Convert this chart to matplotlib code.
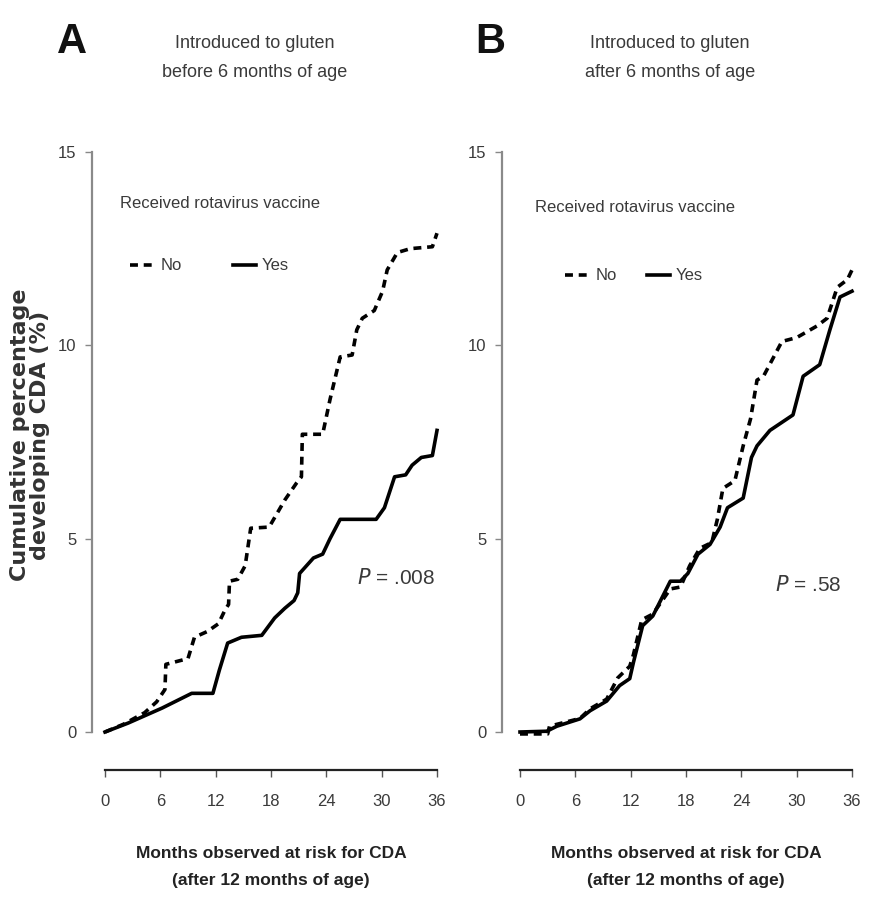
import matplotlib
matplotlib.use("Agg")
import matplotlib.pyplot as plt

plt.rcParams['font.family'] = ['Liberation Sans', 'DejaVu Sans']

# Panel A: introduced to gluten before 6 months
a_no_x = [0, 2, 4.3, 5.6, 6.5, 6.6, 9.0, 9.7, 11.1, 12.3, 13.0, 13.4, 13.5, 14.4, 15.2, 15.8,
          17.8, 19.5, 20.8, 21.3, 21.4, 23.6, 24.4, 25.5, 26.8, 27.3, 27.9, 29.2, 30.1,
          30.6, 31.7, 33.1, 35.5, 36]
a_no_y = [0, 0.2, 0.5, 0.78, 1.1, 1.75, 1.9, 2.45, 2.6, 2.8, 3.15, 3.3, 3.9, 3.95, 4.3, 5.27,
          5.3, 6.0, 6.45, 6.6, 7.7, 7.7, 8.6, 9.7, 9.75, 10.4, 10.7, 10.9, 11.4,
          11.95, 12.4, 12.5, 12.55, 12.9]
a_yes_x = [0, 2.5, 6.2, 9.4, 11.7, 12.4, 13.3, 14.8, 17.0, 18.4, 19.5, 20.5, 20.9, 21.1, 22.6,
           23.6, 24.4, 25.5, 29.4, 30.3, 31.4, 32.6, 33.3, 34.3, 35.5, 36]
a_yes_y = [0, 0.23, 0.62, 1.0, 1.0, 1.6, 2.3, 2.45, 2.5, 2.95, 3.2, 3.4, 3.6, 4.1, 4.5,
           4.6, 5.0, 5.5, 5.5, 5.8, 6.6, 6.65, 6.9, 7.1, 7.15, 7.8]

# Panel B: introduced to gluten after 6 months
b_no_x = [0, 3.0, 3.2, 6.5, 7.6, 9.4, 10.6, 11.9, 12.3, 13.2, 14.4, 16.3, 17.4, 18.4, 19.5,
          20.8, 21.4, 22.0, 23.3, 24.2, 25.0, 25.7, 26.4, 28.4, 30.0, 32.2, 33.3, 34.4, 35.5, 36]
b_no_y = [-0.05, -0.05, 0.15, 0.35, 0.6, 0.85, 1.4, 1.7, 2.0, 2.9, 3.05, 3.7, 3.75, 4.3, 4.75,
          4.9, 5.5, 6.3, 6.5, 7.4, 8.1, 9.1, 9.2, 10.1, 10.2, 10.5, 10.7, 11.5, 11.7, 11.95]
b_yes_x = [0, 2.9, 4.0, 6.5, 7.6, 9.4, 10.8, 11.9, 12.3, 13.3, 14.4, 16.3, 17.4, 18.2, 19.3,
           20.6, 21.7, 22.5, 24.2, 25.1, 25.7, 27.1, 29.6, 30.7, 32.5, 33.6, 34.7, 36]
b_yes_y = [0, 0.02, 0.15, 0.34, 0.55, 0.8, 1.2, 1.38, 1.8, 2.75, 3.0, 3.9, 3.9, 4.1, 4.6,
           4.85, 5.3, 5.8, 6.05, 7.1, 7.4, 7.8, 8.2, 9.2, 9.5, 10.4, 11.25, 11.4]

x_ticks = [0, 6, 12, 18, 24, 30, 36]
y_ticks = [0, 5, 10, 15]
titles = ["Introduced to gluten\nbefore 6 months of age", "Introduced to gluten\nafter 6 months of age"]
letters = ["A", "B"]
p_texts = [".008", ".58"]

W, H = 871, 911
fig = plt.figure(figsize=(W / 100, H / 100), dpi=100)

def fx(px):
    return px / W

def fy(py):
    return 1 - py / H

grey = "#3a3a3a"
dash = (0, (2.2, 1.6))
panels = [
    dict(left=105, right=437, yaxis_x=92, no=(a_no_x, a_no_y), yes=(a_yes_x, a_yes_y),
         leg_title=(120, 203), leg_y=265, no_line=(130, 152), no_txt=161, yes_line=(233, 256), yes_txt=262,
         p_xy=(357, 578), letter_x=72, title_x=255),
    dict(left=520, right=852, yaxis_x=502, no=(b_no_x, b_no_y), yes=(b_yes_x, b_yes_y),
         leg_title=(535, 207), leg_y=275, no_line=(565, 587), no_txt=596, yes_line=(647, 670), yes_txt=676,
         p_xy=(775, 585), letter_x=490, title_x=670),
]

for i, p in enumerate(panels):
    top, bottom = 152, 732
    ax = fig.add_axes([fx(p["left"]), fy(bottom), fx(p["right"] - p["left"]), (bottom - top) / H])
    ax.set_xlim(0, 36)
    ax.set_ylim(0, 15)
    ax.plot(p["no"][0], p["no"][1], color="black", lw=2.6, ls=dash, clip_on=False,
            dash_capstyle="butt")
    ax.plot(p["yes"][0], p["yes"][1], color="black", lw=2.6, clip_on=False)

    for s in ["top", "right"]:
        ax.spines[s].set_visible(False)
    ax.spines["left"].set_position(("outward", (p["left"] - p["yaxis_x"]) * 0.72))
    ax.spines["bottom"].set_position(("outward", (770 - bottom) * 0.72))
    ax.spines["left"].set_color("#8a8a8a")
    ax.spines["left"].set_linewidth(1.6)
    ax.spines["bottom"].set_color("#222222")
    ax.spines["bottom"].set_linewidth(1.6)
    ax.set_xticks(x_ticks)
    ax.set_yticks(y_ticks)
    ax.tick_params(axis="x", length=5, width=1, color="#555555", labelsize=12, labelcolor=grey, pad=12)
    ax.tick_params(axis="y", length=5, width=1, color="#888888", labelsize=12, labelcolor=grey, pad=6)
    ax.set_xlabel("Months observed at risk for CDA\n(after 12 months of age)", fontsize=12.5,
                  fontweight="bold", color="#222222", labelpad=27, linespacing=1.95)

    # letter and title
    fig.text(fx(p["letter_x"]), fy(42), letters[i], fontsize=30, fontweight="bold",
             ha="center", va="center", color="#111111")
    fig.text(fx(p["title_x"]), fy(58), titles[i], fontsize=13, ha="center", va="center",
             color=grey, linespacing=1.95)

    # legend drawn by hand
    fig.text(fx(p["leg_title"][0]), fy(p["leg_title"][1]), "Received rotavirus vaccine",
             fontsize=12, ha="left", va="center", color=grey)
    fig.add_artist(plt.Line2D([fx(p["no_line"][0]), fx(p["no_line"][1])], [fy(p["leg_y"])] * 2,
                              color="black", lw=2.6, ls=dash, transform=fig.transFigure))
    fig.text(fx(p["no_txt"]), fy(p["leg_y"]), "No", fontsize=12, ha="left", va="center", color=grey)
    fig.add_artist(plt.Line2D([fx(p["yes_line"][0]), fx(p["yes_line"][1])], [fy(p["leg_y"])] * 2,
                              color="black", lw=2.6, transform=fig.transFigure))
    fig.text(fx(p["yes_txt"]), fy(p["leg_y"]), "Yes", fontsize=12, ha="left", va="center", color=grey)

    fig.text(fx(p["p_xy"][0]), fy(p["p_xy"][1]), "$\\it{P}$ = " + p_texts[i], fontsize=15,
             ha="left", va="center", color=grey)

fig.text(fx(30), fy(435), "Cumulative percentage\ndeveloping CDA (%)", rotation=90, fontsize=16,
         fontweight="bold", ha="center", va="center", color="#333333", family="DejaVu Sans",
         linespacing=0.95)

fig.savefig("out.png", dpi=100)
